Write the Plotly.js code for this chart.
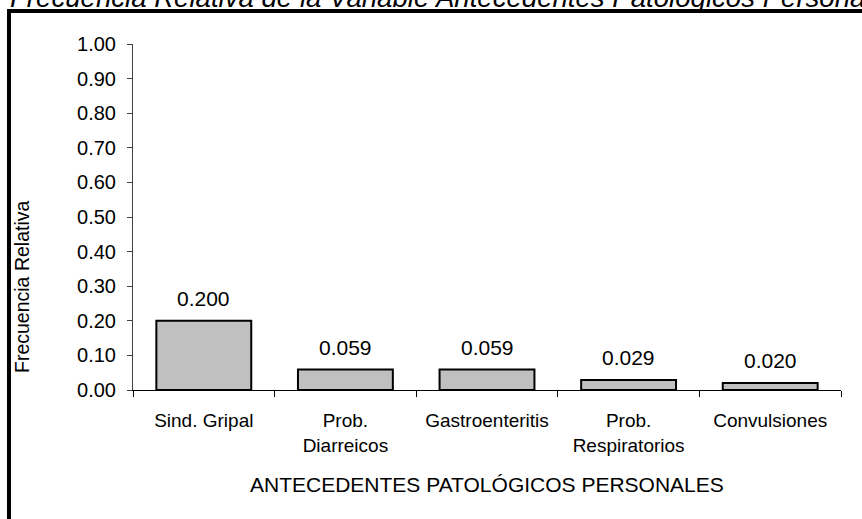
<!DOCTYPE html>
<html>
<head>
<meta charset="utf-8">
<script src="https://cdn.plot.ly/plotly-3.0.1.min.js"></script>
<style>html,body{margin:0;padding:0;background:#fff;}#chart{width:862px;height:519px;}</style>
</head>
<body>
<div id="chart"></div>
<script>
const categories = ["Sind. Gripal", "Prob.<br>Diarreicos", "Gastroenteritis", "Prob.<br>Respiratorios", "Convulsiones"];
const values = [0.200, 0.059, 0.059, 0.029, 0.020];
const yTicks = [0, 0.1, 0.2, 0.3, 0.4, 0.5, 0.6, 0.7, 0.8, 0.9, 1.0];
const chartTitle = "Frecuencia Relativa de la Variable Antecedentes Patológicos Personales";
const xTitle = "ANTECEDENTES PATOLÓGICOS PERSONALES";
const yTitle = "Frecuencia Relativa";

const W = 862, H = 519;
const L = 133, R = 21, T = 44, B = 129;
const pw = W - L - R, ph = H - T - B;
const px = v => (v - L) / pw;
const py = v => (H - B - v) / ph;
const FONT = "Arial, 'Liberation Sans', Helvetica, sans-serif";

const trace = {
  type: "bar",
  x: categories,
  y: values,
  marker: { color: "#c0c0c0", line: { color: "#000", width: 2 } },
  width: 0.67,
  hoverinfo: "skip"
};

const barLabels = categories.map((c, i) => ({
  x: c, y: values[i], xref: "x", yref: "y",
  text: values[i].toFixed(3), showarrow: false,
  yanchor: "bottom", yshift: 9,
  font: { family: FONT, size: 21, color: "#000" }
}));

const layout = {
  width: W, height: H,
  margin: { l: L, r: R, t: T, b: B, pad: 0 },
  paper_bgcolor: "#fff", plot_bgcolor: "#fff",
  showlegend: false,
  bargap: 0.33,
  xaxis: {
    type: "category",
    showline: true, linecolor: "#000", linewidth: 1,
    ticks: "outside", tickson: "boundaries", ticklen: 6, tickcolor: "#000", tickwidth: 1,
    showgrid: false, zeroline: false,
    tickfont: { family: FONT, size: 19, color: "#000" },
    ticklabelstandoff: 13,
    automargin: false
  },
  yaxis: {
    range: [0, 1],
    tickvals: yTicks,
    tickformat: ".2f",
    showline: true, linecolor: "#404040", linewidth: 1,
    ticks: "outside", ticklen: 5, tickcolor: "#404040", tickwidth: 1,
    showgrid: false, zeroline: false,
    tickfont: { family: FONT, size: 20, color: "#000" },
    ticklabelstandoff: 7,
    automargin: false
  },
  shapes: [{
    type: "rect", xref: "paper", yref: "paper",
    x0: px(9), x1: px(880), y0: py(540), y1: py(11),
    line: { color: "#000", width: 4 }, fillcolor: "rgba(0,0,0,0)", layer: "above"
  }],
  annotations: barLabels.concat([
    {
      xref: "paper", yref: "paper", x: px(455), y: py(15), yanchor: "bottom", xanchor: "center",
      text: "<i>" + chartTitle + "</i>", showarrow: false,
      font: { family: FONT, size: 27.6, color: "#000" }
    },
    {
      xref: "paper", yref: "paper", x: px(487), y: py(484), yanchor: "middle", xanchor: "center",
      text: xTitle, showarrow: false,
      font: { family: FONT, size: 21, color: "#000" }
    },
    {
      xref: "paper", yref: "paper", x: px(22), y: py(287), yanchor: "middle", xanchor: "center",
      text: yTitle, showarrow: false, textangle: -90,
      font: { family: FONT, size: 19.5, color: "#000" }
    }
  ])
};

Plotly.newPlot("chart", [trace], layout, { staticPlot: true, displayModeBar: false });
</script>
</body>
</html>
